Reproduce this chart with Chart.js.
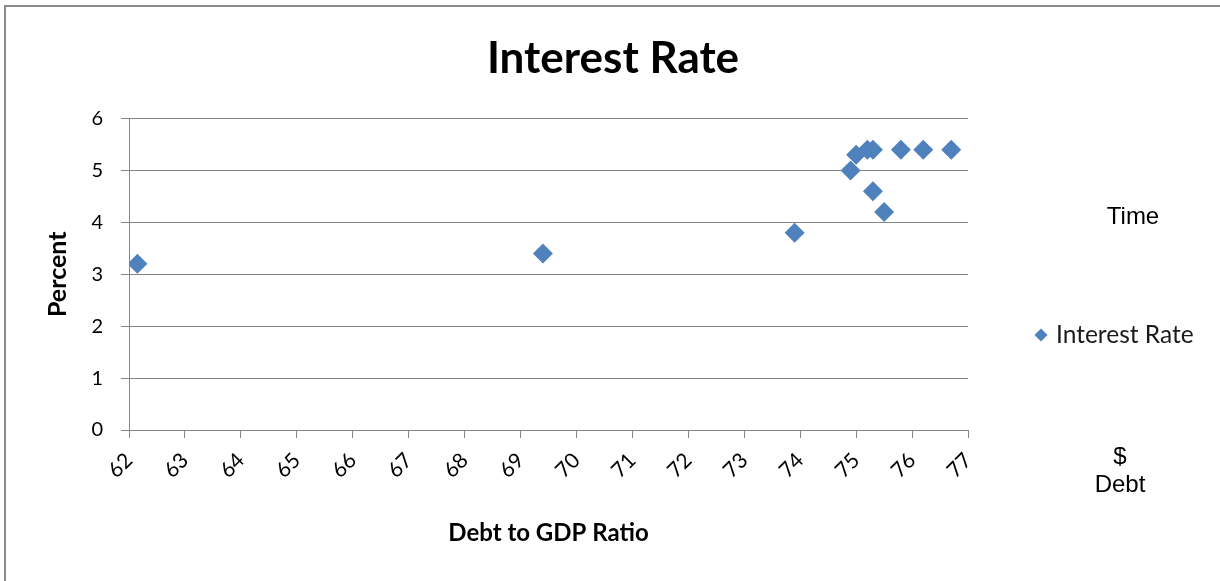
<!DOCTYPE html>
<html>
<head>
<meta charset="utf-8">
<script src="https://cdn.jsdelivr.net/npm/chart.js@4/dist/chart.umd.min.js"></script>
<style>
  html, body { margin: 0; padding: 0; background: #fff; }
  #wrap { position: relative; width: 1220px; height: 581px; }
</style>
</head>
<body>
<div id="wrap"><canvas id="c" width="1220" height="581"></canvas></div>
<script>
// Debt-to-GDP ratio (x) against interest rate in percent (y)
const debtToGdp    = [62.15, 69.4, 73.9, 74.9, 75.0, 75.2, 75.3, 75.3, 75.5, 75.8, 76.2, 76.7];
const interestRate = [3.2,   3.4,  3.8,  5.0,  5.3,  5.4,  5.4,  4.6,  4.2,  5.4,  5.4,  5.4];
const xTicks = [62, 63, 64, 65, 66, 67, 68, 69, 70, 71, 72, 73, 74, 75, 76, 77];
const yTicks = [0, 1, 2, 3, 4, 5, 6];
const seriesName = 'Interest Rate';
const chartTitle = 'Interest Rate';
const xTitle = 'Debt to GDP Ratio';
const yTitle = 'Percent';
const noteTop = 'Time';
const noteBottom = ['$', 'Debt'];

const GRID = '#868686';
const MARK = '#4f81bd';
const FONT = 'Lato, "Open Sans", sans-serif';

const points = debtToGdp.map((x, i) => ({ x: x, y: interestRate[i] }));

// frame, title across the full width, legend and free-floating notes
const extras = {
  id: 'extras',
  beforeDraw(chart) {
    const ctx = chart.ctx;
    ctx.save();
    ctx.fillStyle = '#fff';
    ctx.fillRect(0, 0, chart.width, chart.height);
    ctx.fillStyle = '#8c8c8c';
    ctx.fillRect(4, 5, chart.width - 4, 2);
    ctx.fillRect(4, 5, 2, chart.height - 5);
    ctx.restore();
  },
  afterDraw(chart) {
    const ctx = chart.ctx;
    ctx.save();
    // chart title
    ctx.fillStyle = '#000';
    ctx.font = 'bold 44px ' + FONT;
    ctx.textAlign = 'center';
    ctx.textBaseline = 'middle';
    ctx.fillText(chartTitle, 613, 59);
    // legend entry
    const ds = chart.data.datasets[0];
    const lx = 1041, ly = 335, r = 6.5;
    ctx.fillStyle = ds.backgroundColor;
    ctx.beginPath();
    ctx.moveTo(lx - r, ly); ctx.lineTo(lx, ly - r); ctx.lineTo(lx + r, ly); ctx.lineTo(lx, ly + r);
    ctx.closePath(); ctx.fill();
    ctx.fillStyle = '#1a1a1a';
    ctx.font = '24.5px ' + FONT;
    ctx.textAlign = 'left';
    ctx.fillText(ds.label, 1056, ly);
    // notes
    ctx.fillStyle = '#000';
    ctx.font = '24px "Liberation Sans", Arial, sans-serif';
    ctx.textAlign = 'center';
    ctx.fillText(noteTop, 1133, 217);
    ctx.fillText(noteBottom[0], 1120, 457);
    ctx.fillText(noteBottom[1], 1120, 485);
    ctx.restore();
  }
};

new Chart(document.getElementById('c'), {
  type: 'scatter',
  data: {
    datasets: [{
      label: seriesName,
      data: points,
      pointStyle: 'rectRot',
      pointRadius: 10,
      pointHoverRadius: 10,
      backgroundColor: MARK,
      borderColor: MARK,
      borderWidth: 0
    }]
  },
  options: {
    responsive: false,
    animation: false,
    devicePixelRatio: 1,
    layout: { padding: { left: 0, right: 252, top: 118.5, bottom: 0 } },
    plugins: {
      legend: { display: false },
      tooltip: { enabled: false },
      title: { display: false }
    },
    scales: {
      x: {
        type: 'linear',
        min: xTicks[0],
        max: xTicks[xTicks.length - 1],
        afterBuildTicks: s => { s.ticks = xTicks.map(v => ({ value: v })); },
        afterFit: s => { s.height = 151; },
        ticks: {
          minRotation: 45, maxRotation: 45,
          color: '#000',
          font: { family: FONT, size: 21 },
          padding: 10,
          callback: v => String(v)
        },
        grid: { drawOnChartArea: false, drawTicks: true, tickLength: 8, color: GRID },
        border: { display: true, color: GRID, width: 1 },
        title: {
          display: true,
          text: xTitle,
          color: '#000',
          font: { family: FONT, size: 24, weight: 'bold' },
          padding: { top: 0, bottom: 33 }
        }
      },
      y: {
        min: yTicks[0],
        max: yTicks[yTicks.length - 1],
        afterBuildTicks: s => { s.ticks = yTicks.map(v => ({ value: v })); },
        afterFit: s => { s.width = 129; },
        ticks: {
          color: '#000',
          font: { family: FONT, size: 20 },
          padding: 18,
          callback: v => String(v)
        },
        grid: { color: GRID, tickLength: 8, drawTicks: true },
        border: { display: true, color: GRID, width: 1 },
        title: {
          display: true,
          text: yTitle,
          color: '#000',
          font: { family: FONT, size: 25, weight: 'bold' },
          padding: { top: 43, bottom: 0 }
        }
      }
    }
  },
  plugins: [extras]
});
</script>
</body>
</html>
